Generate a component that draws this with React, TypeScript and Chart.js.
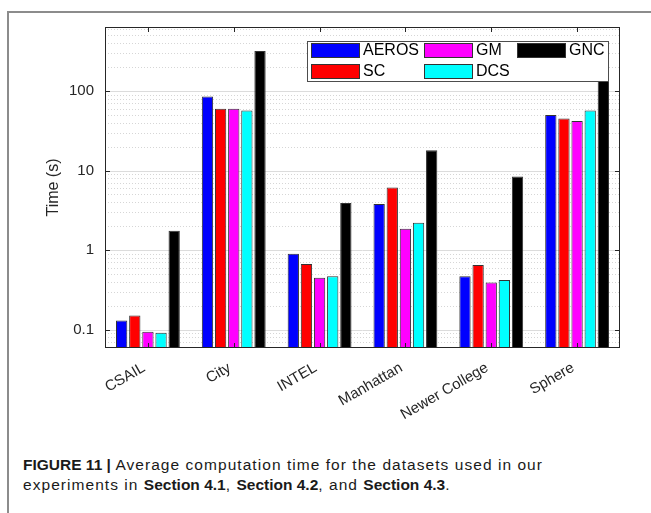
import React, { useEffect, useRef } from "react";
import { Chart, registerables } from "chart.js";

Chart.register(...registerables);

// ---------- data ----------
const categories = ["CSAIL", "City", "INTEL", "Manhattan", "Newer College", "Sphere"];
const seriesNames = ["AEROS", "SC", "GM", "DCS", "GNC"];
const aerosTimes = [0.13, 85, 0.9, 3.8, 0.47, 50];
const scTimes = [0.15, 60, 0.67, 6.1, 0.65, 45];
const gmTimes = [0.094, 60, 0.45, 1.85, 0.39, 42];
const dcsTimes = [0.091, 57, 0.47, 2.2, 0.42, 57];
const gncTimes = [1.75, 319, 3.9, 18, 8.4, 257];
const seriesColors = ["#0000ff", "#ff0000", "#ff00ff", "#00ffff", "#000000"];
const yTickValues = [0.1, 1, 10, 100];
const yTickLabels = ["0.1", "1", "10", "100"];
const yMin = 0.0587;
const yMax = 638;
const yTitle = "Time (s)";

const FONT = '"Liberation Sans", Arial, Helvetica, sans-serif';
const AXIS_COLOR = "#262626";

const decorPlugin = {
  id: "decor",
  beforeDatasetsDraw(chart: any) {
    const { ctx, chartArea: a, scales } = chart;
    const y = scales.y;
    ctx.save();
    ctx.lineWidth = 1;
    // minor grid (dotted)
    ctx.strokeStyle = "#d6d6d6";
    ctx.setLineDash([1, 2]);
    for (let e = -3; e <= 4; e++) {
      for (let k = 2; k <= 9; k++) {
        const v = k * Math.pow(10, e);
        if (v <= y.min || v >= y.max) continue;
        const py = Math.round(y.getPixelForValue(v)) + 0.5;
        ctx.beginPath();
        ctx.moveTo(a.left, py);
        ctx.lineTo(a.right, py);
        ctx.stroke();
      }
    }
    // major grid
    ctx.setLineDash([]);
    ctx.strokeStyle = "#dcdcdc";
    for (const v of yTickValues) {
      const py = Math.round(y.getPixelForValue(v)) + 0.5;
      ctx.beginPath();
      ctx.moveTo(a.left, py);
      ctx.lineTo(a.right, py);
      ctx.stroke();
    }
    ctx.restore();
  },
  afterDatasetsDraw(chart: any) {
    const { ctx, chartArea: a, scales } = chart;
    const y = scales.y;
    const x = scales.x;
    ctx.save();
    ctx.strokeStyle = AXIS_COLOR;
    ctx.lineWidth = 1;
    // ticks (inward)
    const tl = 5;
    ctx.beginPath();
    for (const v of yTickValues) {
      const py = Math.round(y.getPixelForValue(v)) + 0.5;
      ctx.moveTo(a.left, py);
      ctx.lineTo(a.left + tl, py);
      ctx.moveTo(a.right, py);
      ctx.lineTo(a.right - tl, py);
    }
    for (let i = 0; i < categories.length; i++) {
      const px = Math.round(x.getPixelForValue(i)) + 0.5;
      ctx.moveTo(px, a.bottom);
      ctx.lineTo(px, a.bottom - tl);
      ctx.moveTo(px, a.top);
      ctx.lineTo(px, a.top + tl);
    }
    ctx.stroke();
    // box
    ctx.strokeRect(a.left + 0.5, a.top + 0.5, a.right - a.left - 1, a.bottom - a.top - 1);

    // legend (3 columns, column-major like MATLAB)
    const lx = 307, ly = 41, lw = 301, lh = 40;
    ctx.fillStyle = "#ffffff";
    ctx.fillRect(lx, ly, lw, lh);
    ctx.strokeStyle = "#4d4d4d";
    ctx.strokeRect(lx + 0.5, ly + 0.5, lw, lh);
    const colX = [311, 424, 517];
    const rowY = [43, 64];
    ctx.font = `16px ${FONT}`;
    ctx.textBaseline = "middle";
    ctx.textAlign = "left";
    chart.data.datasets.forEach((ds: any, i: number) => {
      const col = Math.floor(i / 2);
      const row = i % 2;
      const sx = colX[col];
      const sy = rowY[row];
      ctx.fillStyle = ds.backgroundColor;
      ctx.fillRect(sx, sy, 49, 15);
      ctx.strokeStyle = "#333333";
      ctx.strokeRect(sx + 0.5, sy + 0.5, 48, 14);
      ctx.fillStyle = "#000000";
      ctx.fillText(ds.label, sx + 52, sy + 8);
    });
    ctx.restore();
  },
};

export default function App() {
  const canvasRef = useRef<HTMLCanvasElement | null>(null);

  useEffect(() => {
    if (!canvasRef.current) return;
    const allSeries = [aerosTimes, scTimes, gmTimes, dcsTimes, gncTimes];
    const chart = new Chart(canvasRef.current, {
      type: "bar",
      data: {
        labels: categories,
        datasets: seriesNames.map((name, i) => ({
          label: name,
          data: allSeries[i],
          backgroundColor: seriesColors[i],
          borderColor: "#333333",
          borderWidth: 1,
          borderSkipped: false,
          categoryPercentage: 0.765,
          barPercentage: 0.86,
        })),
      },
      options: {
        responsive: false,
        animation: false,
        devicePixelRatio: 1,
        layout: { padding: { left: 40, right: 31, top: 27, bottom: 0 } },
        plugins: {
          legend: { display: false },
          tooltip: { enabled: false },
          title: { display: false },
        },
        scales: {
          x: {
            type: "category",
            offset: true,
            grid: { display: false, drawTicks: false },
            border: { display: false },
            ticks: {
              autoSkip: false,
              minRotation: 30,
              maxRotation: 30,
              padding: 11,
              labelOffset: -4,
              color: AXIS_COLOR,
              font: { family: FONT, size: 15 },
            },
            afterFit: (scale: any) => {
              scale.height = 92;
            },
          },
          y: {
            type: "logarithmic",
            min: yMin,
            max: yMax,
            bounds: "data",
            grid: { display: false, drawTicks: false },
            border: { display: false },
            afterBuildTicks: (scale: any) => {
              scale.ticks = yTickValues.map((v) => ({ value: v }));
            },
            ticks: {
              padding: 11,
              color: AXIS_COLOR,
              font: { family: FONT, size: 15 },
              callback: (value: any) => {
                const idx = yTickValues.findIndex((t) => Math.abs(t - Number(value)) < 1e-9);
                return idx >= 0 ? yTickLabels[idx] : "";
              },
            },
            title: {
              display: true,
              text: yTitle,
              color: AXIS_COLOR,
              font: { family: FONT, size: 16 },
              padding: { top: 4, bottom: 4 },
            },
            afterFit: (scale: any) => {
              scale.width = 65;
            },
          },
        },
      },
      plugins: [decorPlugin],
    });
    return () => chart.destroy();
  }, []);

  const regular: React.CSSProperties = { letterSpacing: "1.05px" };
  const bold: React.CSSProperties = { fontWeight: "bold", letterSpacing: "0px" };

  return (
    <div
      style={{
        position: "absolute",
        left: 0,
        top: 0,
        width: 651,
        height: 513,
        background: "#ffffff",
        overflow: "hidden",
      }}
    >
      <div
        style={{
          position: "absolute",
          left: 7,
          top: 11,
          width: 660,
          height: 520,
          borderTop: "2px solid #8c8c8c",
          borderLeft: "2px solid #8c8c8c",
        }}
      />
      <canvas
        ref={canvasRef}
        width={651}
        height={440}
        style={{ position: "absolute", left: 0, top: 0, width: 651, height: 440 }}
      />
      <div
        style={{
          position: "absolute",
          left: 23,
          top: 455,
          width: 620,
          fontFamily: FONT,
          fontSize: 15.5,
          lineHeight: "19.5px",
          color: "#1a1a1a",
          whiteSpace: "nowrap",
        }}
      >
        <div>
          <span style={bold}>FIGURE 11 |</span>
          <span style={regular}> Average computation time for the datasets used in our</span>
        </div>
        <div>
          <span style={regular}>experiments in </span>
          <span style={bold}>Section 4.1</span>
          <span style={regular}>, </span>
          <span style={bold}>Section 4.2</span>
          <span style={regular}>, and </span>
          <span style={bold}>Section 4.3</span>
          <span style={regular}>.</span>
        </div>
      </div>
    </div>
  );
}
